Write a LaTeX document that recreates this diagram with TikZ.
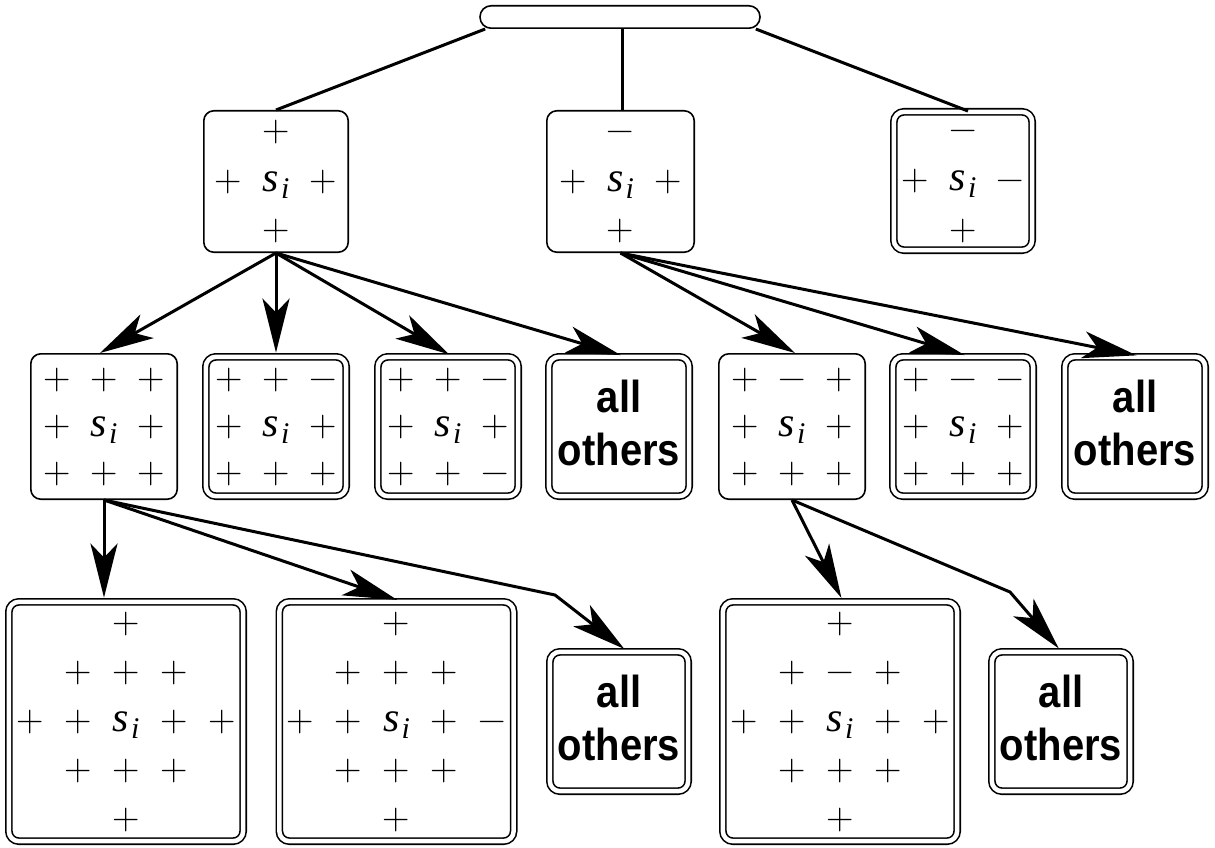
\documentclass[tikz,border=0pt]{standalone}
\usepackage{fontspec}
\newfontfamily\allfont{Liberation Sans}
\newfontfamily\tmsfont{Liberation Serif}
\usetikzlibrary{arrows.meta}
\tikzset{
  bx/.style 2 args={draw, line width=1.6pt, rounded corners=10pt, inner sep=0pt,
    minimum width=#1pt-1.6pt, minimum height=#2pt-1.6pt},
  dbx/.style 2 args={draw, line width=1.6pt, double, double distance=4.5pt,
    rounded corners=10pt, inner sep=0pt,
    minimum width=#1pt-7.7pt, minimum height=#2pt-7.7pt},
  pill/.style={draw, line width=1.6pt, rounded corners=11pt, inner sep=0pt,
    minimum width=280pt, minimum height=22.4pt},
  sg/.style={anchor=base, inner sep=0pt, font=\fontsize{38}{38}\selectfont},
  alltxt/.style={align=center, inner sep=0pt,
    font=\fontsize{40}{53}\selectfont\allfont\bfseries},
  con/.style={line width=3pt},
  arr/.style={line width=3pt, line join=bevel,
    -{Stealth[length=54pt,width=27pt,inset=14pt]}},
  dt/.style={shorten >=3.5pt},
}
\newcommand\mn{\symbol{"2212}}
\newcommand\si{{\tmsfont\itshape\fontsize{42}{42}\selectfont s}\kern2pt\raisebox{-7pt}{\tmsfont\fontsize{30}{30}\selectfont\itshape i}}
\newcommand\yst[1]{\scalebox{1}[1.12]{#1}}
\newcommand\signs[4]{%
  \foreach \dx/\dy/\sym [count=\k] in {#4}
    \node[sg] (#1s\k) at ([shift={(\dx*#2,\dy*#3+9.5)}]#1.center) {\sym};}
\begin{document}
\begin{tikzpicture}[x=1pt,y=-1pt]
\useasboundingbox (0,0) rectangle (1215,848);
% root
\node[pill] (root) at (620,17) {};
% level 1
\node[bx={146}{143}] (A) at (276,181.5) {};
\node[bx={149}{143}] (B) at (620.5,181.5) {};
\node[dbx={146}{146}] (C) at (963,181) {};
% level 2
\node[bx={148}{147}] (D) at (104,426.5) {};
\node[dbx={148}{147}] (E) at (276,426.5) {};
\node[dbx={148}{147}] (F) at (448,426.5) {};
\node[dbx={148}{147}] (G) at (619,426.5) {};
\node[bx={148}{147}] (H) at (792,426.5) {};
\node[dbx={148}{147}] (I) at (963,426.5) {};
\node[dbx={148}{147}] (J) at (1135,426.5) {};
% level 3
\node[dbx={242}{247}] (K) at (126,721.5) {};
\node[dbx={242}{247}] (L) at (396.5,721.5) {};
\node[dbx={146}{147}] (M) at (619,721.5) {};
\node[dbx={242}{247}] (N) at (840,721.5) {};
\node[dbx={146}{147}] (O) at (1061,721.5) {};
% contents
\signs{A}{47.5}{49.5}{0/-1/+, -1/0/+, 0/0/\si, 1/0/+, 0/1/+}
\signs{B}{47.5}{49.5}{0/-1/\mn, -1/0/+, 0/0/\si, 1/0/+, 0/1/+}
\signs{C}{47.5}{49.5}{0/-1/\mn, -1/0/+, 0/0/\si, 1/0/\mn, 0/1/+}
\signs{D}{47}{47}{-1/-1/+, 0/-1/+, 1/-1/+, -1/0/+, 0/0/\si, 1/0/+, -1/1/+, 0/1/+, 1/1/+}
\signs{E}{47}{47}{-1/-1/+, 0/-1/+, 1/-1/\mn, -1/0/+, 0/0/\si, 1/0/+, -1/1/+, 0/1/+, 1/1/+}
\signs{F}{47}{47}{-1/-1/+, 0/-1/+, 1/-1/\mn, -1/0/+, 0/0/\si, 1/0/+, -1/1/+, 0/1/+, 1/1/\mn}
\signs{H}{47}{47}{-1/-1/+, 0/-1/\mn, 1/-1/+, -1/0/+, 0/0/\si, 1/0/+, -1/1/+, 0/1/+, 1/1/+}
\signs{I}{47}{47}{-1/-1/+, 0/-1/\mn, 1/-1/\mn, -1/0/+, 0/0/\si, 1/0/+, -1/1/+, 0/1/+, 1/1/+}
\signs{K}{48}{49}{0/-2/+, -1/-1/+, 0/-1/+, 1/-1/+, -2/0/+, -1/0/+, 0/0/\si, 1/0/+, 2/0/+, -1/1/+, 0/1/+, 1/1/+, 0/2/+}
\signs{L}{48}{49}{0/-2/+, -1/-1/+, 0/-1/+, 1/-1/+, -2/0/+, -1/0/+, 0/0/\si, 1/0/+, 2/0/\mn, -1/1/+, 0/1/+, 1/1/+, 0/2/+}
\signs{N}{48}{49}{0/-2/+, -1/-1/+, 0/-1/\mn, 1/-1/+, -2/0/+, -1/0/+, 0/0/\si, 1/0/+, 2/0/+, -1/1/+, 0/1/+, 1/1/+, 0/2/+}
\node[alltxt] (Gt) at ([yshift=4pt]G.center) {\yst{all}\\\yst{others}};
\node[alltxt] (Jt) at ([yshift=4pt]J.center) {\yst{all}\\\yst{others}};
\node[alltxt] (Mt) at ([yshift=4pt]M.center) {\yst{all}\\\yst{others}};
\node[alltxt] (Ot) at ([yshift=4pt]O.center) {\yst{all}\\\yst{others}};
% connectors from root
\draw[con] ([xshift=6pt]root.south west) -- (A.north);
\draw[con] ([xshift=2pt]root.south) -- ([xshift=1.5pt]B.north);
\draw[con] ([xshift=-5pt]root.south east) -- ([xshift=5pt]C.north);
% arrows level 1 -> 2
\draw[arr] (A.south) -- ([xshift=-4pt]D.north);
\draw[arr,dt] (A.south) -- (E.north);
\draw[arr,dt] (A.south) -- ([xshift=4pt]F.north);
\draw[arr,dt] (A.south) -- ([xshift=5pt]G.north);
\draw[arr] (B.south) -- ([xshift=3pt]H.north);
\draw[arr,dt] (B.south) -- ([xshift=5pt]I.north);
\draw[arr,dt] (B.south) -- ([xshift=5pt]J.north);
% arrows level 2 -> 3
\coordinate (b1) at (555,595);
\coordinate (b2) at (1010,592);
\draw[arr,dt] (D.south) -- (D.south |- K.north);
\draw[arr,dt] (D.south) -- ([xshift=4pt]L.north);
\draw[arr,dt] (D.south) -- (b1) -- ([xshift=8pt]M.north);
\draw[arr,dt] (H.south) -- ([xshift=3pt]N.north);
\draw[arr,dt] (H.south) -- (b2) -- (O.north);
\end{tikzpicture}
\end{document}
